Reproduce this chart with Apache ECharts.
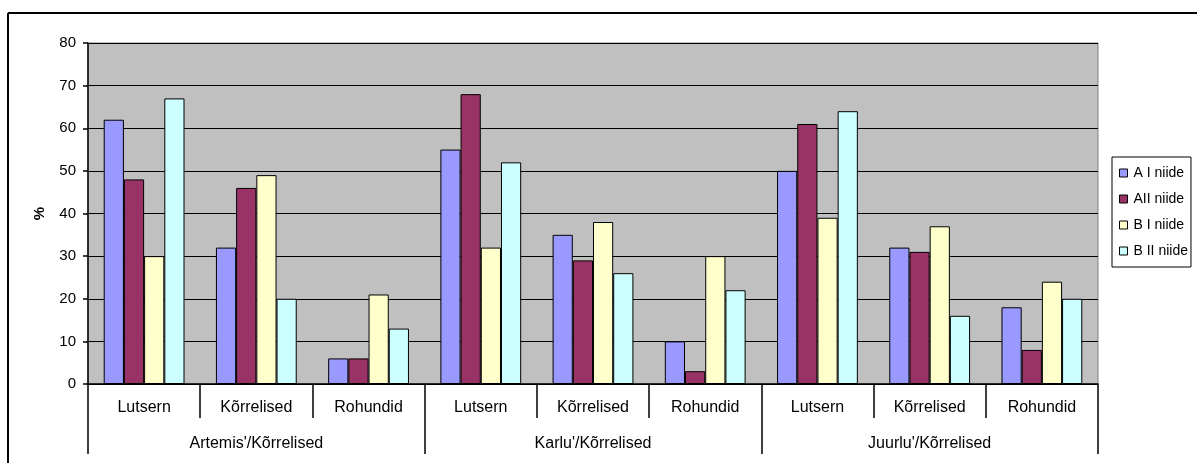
<!DOCTYPE html>
<html>
<head>
<meta charset="utf-8">
<script src="https://cdn.jsdelivr.net/npm/echarts@6/dist/echarts.min.js"></script>
<style>
html,body{margin:0;padding:0;background:#fff;}
#chart{width:1197px;height:463px;}
</style>
</head>
<body>
<div id="chart"></div>
<script>
const subCategories = ['Lutsern', 'Kõrrelised', 'Rohundid', 'Lutsern', 'Kõrrelised', 'Rohundid', 'Lutsern', 'Kõrrelised', 'Rohundid'];
const groupCategories = ["Artemis'/Kõrrelised", "Karlu'/Kõrrelised", "Juurlu'/Kõrrelised"];
const seriesNames = ['A I niide', 'AII niide', 'B I niide', 'B II niide'];
const aI  = [62, 32, 6, 55, 35, 10, 50, 32, 18];
const aII = [48, 46, 6, 68, 29, 3, 61, 31, 8];
const bI  = [30, 49, 21, 32, 38, 30, 39, 37, 24];
const bII = [67, 20, 13, 52, 26, 22, 64, 16, 20];
const yTicks = [0, 10, 20, 30, 40, 50, 60, 70, 80];

const colors = ['#9999FF', '#993366', '#FFFFCC', '#CCFFFF'];
const values = [aI, aII, bI, bII];
const font = 'Liberation Sans, Arial, sans-serif';

const chart = echarts.init(document.getElementById('chart'), null, {renderer: 'canvas'});
chart.setOption({
  animation: false,
  textStyle: {fontFamily: font},
  graphic: [
    {type: 'line', shape: {x1: 8, y1: 13, x2: 1197, y2: 13}, style: {stroke: '#000', lineWidth: 2}},
    {type: 'line', shape: {x1: 8, y1: 13, x2: 8, y2: 463}, style: {stroke: '#000', lineWidth: 2}}
  ],
  grid: {
    left: 88, top: 43, right: 99, bottom: 79,
    show: true, backgroundColor: '#C0C0C0', borderColor: '#808080', borderWidth: 1
  },
  legend: {
    orient: 'vertical',
    left: 1112, top: 157,
    padding: [9, 3, 9, 7],
    itemGap: 12,
    itemWidth: 8, itemHeight: 8,
    itemStyle: {borderColor: '#000', borderWidth: 1},
    backgroundColor: '#fff',
    borderColor: '#000', borderWidth: 1,
    textStyle: {fontFamily: font, fontSize: 14, color: '#000', padding: [0, 0, 0, 1]},
    data: seriesNames.map(n => ({name: n, icon: 'rect'}))
  },
  xAxis: [
    {
      type: 'category', position: 'bottom', data: subCategories,
      axisLine: {show: true, lineStyle: {color: '#000', width: 1.5}},
      axisTick: {show: true, interval: 0, length: 34, lineStyle: {color: '#000', width: 1.5}},
      axisLabel: {show: true, margin: 16, color: '#000', fontSize: 16, fontFamily: font, interval: 0}
    },
    {
      type: 'category', position: 'bottom', data: groupCategories,
      axisLine: {show: false},
      axisTick: {show: true, interval: 0, length: 70, lineStyle: {color: '#000', width: 1.5}},
      axisLabel: {show: true, margin: 52, color: '#000', fontSize: 16, fontFamily: font, interval: 0}
    }
  ],
  yAxis: {
    type: 'value', min: yTicks[0], max: yTicks[yTicks.length - 1], interval: 10,
    name: '%', nameLocation: 'middle', nameRotate: 90, nameGap: 41,
    nameTextStyle: {fontWeight: 'bold', fontSize: 15, color: '#000', fontFamily: font},
    axisLine: {show: true, lineStyle: {color: '#000', width: 1.5}},
    axisTick: {show: true, length: 5, lineStyle: {color: '#000', width: 1.5}},
    axisLabel: {margin: 12, color: '#000', fontSize: 15, fontFamily: font},
    splitLine: {show: true, lineStyle: {color: '#000', width: 1}}
  },
  series: seriesNames.map((n, i) => ({
    name: n, type: 'bar', xAxisIndex: 0, data: values[i],
    barGap: '0%', barCategoryGap: '28%',
    itemStyle: {color: colors[i], borderColor: '#000', borderWidth: 1}
  }))
});
</script>
</body>
</html>
